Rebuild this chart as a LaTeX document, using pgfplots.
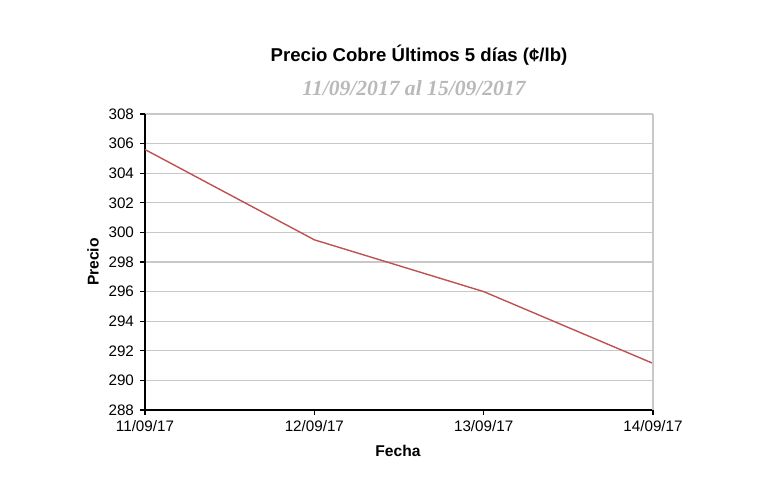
\documentclass[border=0pt]{standalone}
\usepackage{fontspec}
\setmainfont{Liberation Sans}
\newfontfamily\subfont{Liberation Serif}
\usepackage{pgfplots}
\pgfplotsset{compat=1.18}
\definecolor{linered}{RGB}{190,82,80}
\definecolor{gridgray}{RGB}{200,200,200}
\definecolor{subgray}{RGB}{185,185,185}

\begin{document}
\begin{tikzpicture}
% 1 px of the reference = 0.5pt
\path[use as bounding box] (0pt,0pt) rectangle (382.5pt,250pt);
\begin{axis}[
    at={(72.5pt,45pt)}, anchor=south west,
    scale only axis,
    width=254pt, height=148pt,
    xmin=0, xmax=3, ymin=288, ymax=308,
    xtick={0,1,2,3},
    xticklabels={11/09/17,12/09/17,13/09/17,14/09/17},
    ytick={288,290,...,308},
    ymajorgrids,
    grid style={gridgray, line width=0.6pt},
    axis line style={black, line width=0.8pt},
    axis x line*=bottom, axis y line*=left,
    tick style={black, line width=0.6pt},
    tick align=outside,
    major tick length=2.5pt,
    ticklabel style={font=\fontsize{7.6}{9}\selectfont},
    /pgf/number format/assume math mode=true,
    yticklabel style={/pgf/number format/fixed, /pgf/number format/precision=0, xshift=0.5pt},
    xticklabel style={yshift=1pt},
    clip=false,
]
\addplot[linered, line width=0.7pt] coordinates {
    (0,305.6) (1,299.5) (2,296.0) (3,291.15)
};
\draw[gridgray, line width=0.6pt] (axis cs:3,288) -- (axis cs:3,308);
\end{axis}
\node[font=\bfseries\fontsize{9.3}{11}\selectfont] at (209.5pt,222.5pt) {Precio Cobre Últimos 5 días (¢/lb)};
\node[font=\subfont\bfseries\itshape\fontsize{10.8}{12}\selectfont, text=subgray] at (207pt,206pt) {11/09/2017 al 15/09/2017};
\node[font=\bfseries\fontsize{7.8}{9}\selectfont, rotate=90] at (46.5pt,119pt) {Precio};
\node[font=\bfseries\fontsize{7.8}{9}\selectfont] at (199pt,24.5pt) {Fecha};
\end{tikzpicture}
\end{document}
